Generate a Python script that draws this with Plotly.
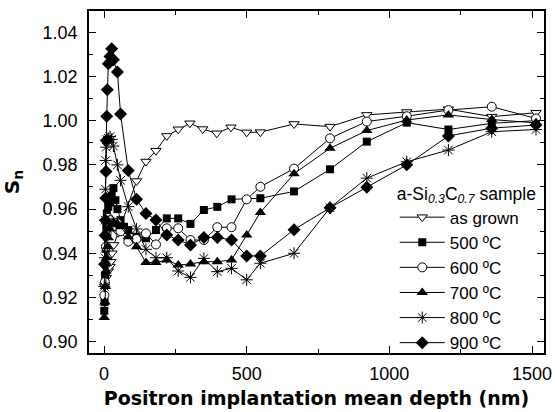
import plotly.graph_objects as go

# ---- data ----
d_asgrown = [2, 8, 15, 21, 24, 28, 34, 50, 114, 147, 182, 220, 260, 301, 346, 395, 445, 500, 548, 666, 792, 921, 1061, 1207, 1359, 1514]
s_asgrown = [0.925, 0.929, 0.932, 0.934, 0.9362, 0.940, 0.9438, 0.9493, 0.9727, 0.9815, 0.9864, 0.9931, 0.9961, 0.9988, 0.9962, 0.9943, 0.9970, 0.9947, 0.9948, 0.9985, 0.9973, 1.0026, 1.0039, 1.0052, 1.0018, 1.0036]

d_500 = [1, 2, 4, 6, 8, 10, 15, 21, 27, 33, 40, 47, 58, 70, 85, 114, 147, 182, 220, 260, 303, 350, 397, 447, 548, 666, 792, 921, 1061, 1207, 1359, 1514]
s_500 = [0.914, 0.918, 0.930, 0.942, 0.952, 0.958, 0.961, 0.963, 0.966, 0.9695, 0.964, 0.960, 0.955, 0.952, 0.9505, 0.9475, 0.9468, 0.9505, 0.9558, 0.9558, 0.9533, 0.9596, 0.961, 0.9644, 0.9649, 0.9680, 0.978, 0.9905, 0.9991, 0.996, 0.9988, 1.000]

d_600 = [1, 3, 5, 7, 9, 12, 15, 21, 33, 47, 58, 85, 114, 147, 182, 220, 260, 303, 350, 397, 447, 500, 548, 666, 792, 921, 1061, 1207, 1359, 1514]
s_600 = [0.921, 0.927, 0.935, 0.943, 0.949, 0.954, 0.956, 0.955, 0.954, 0.9536, 0.950, 0.9453, 0.9465, 0.949, 0.944, 0.9513, 0.9513, 0.946, 0.946, 0.9518, 0.9518, 0.9644, 0.9701, 0.9783, 0.992, 0.9996, 1.002, 1.0048, 1.0063, 1.001]

d_700 = [1, 3, 5, 7, 9, 12, 15, 21, 27, 33, 47, 58, 85, 114, 147, 182, 220, 260, 303, 350, 397, 447, 500, 548, 666, 792, 921, 1061, 1207, 1359, 1514]
s_700 = [0.911, 0.918, 0.925, 0.932, 0.938, 0.943, 0.947, 0.951, 0.953, 0.954, 0.9535, 0.952, 0.9475, 0.943, 0.9358, 0.9358, 0.937, 0.9347, 0.9352, 0.9362, 0.9362, 0.937, 0.9483, 0.9585, 0.9760, 0.9875, 0.9955, 1.0003, 1.0026, 1.0005, 0.999]

d_800 = [1, 3, 4, 5, 6, 8, 9.5, 15, 21, 27, 33, 47, 58, 85, 114, 147, 182, 220, 260, 303, 350, 397, 447, 500, 548, 666, 792, 921, 1061, 1207, 1359, 1514]
s_800 = [0.925, 0.938, 0.955, 0.969, 0.982, 0.988, 0.9915, 0.992, 0.9928, 0.9915, 0.9885, 0.980, 0.973, 0.9611, 0.951, 0.9418, 0.938, 0.938, 0.932, 0.9291, 0.9377, 0.9317, 0.9332, 0.928, 0.9355, 0.940, 0.9606, 0.974, 0.9814, 0.9867, 0.995, 0.996]

d_900 = [2, 4, 5, 6, 7, 8, 9.5, 11.6, 15, 21, 27, 33, 47, 58, 85, 114, 147, 182, 220, 260, 303, 350, 397, 447, 500, 548, 666, 792, 921, 1061, 1207, 1359, 1514]
s_900 = [0.935, 0.948, 0.955, 0.965, 0.977, 0.991, 1.002, 1.014, 1.0257, 1.029, 1.0325, 1.0275, 1.022, 1.003, 0.9774, 0.9644, 0.958, 0.9551, 0.9483, 0.946, 0.9438, 0.9472, 0.9472, 0.946, 0.9388, 0.9388, 0.9507, 0.9606, 0.9699, 0.980, 0.9931, 0.9966, 0.998]

names = ["as grown", "500 ºC", "600 ºC", "700 ºC", "800 ºC", "900 ºC"]
x_ticks = [0, 500, 1000, 1500]
y_ticks = [0.90, 0.92, 0.94, 0.96, 0.98, 1.00, 1.02, 1.04]

series = [
    (d_asgrown, s_asgrown, dict(symbol="triangle-down", size=9, color="white", line=dict(color="black", width=1))),
    (d_500, s_500, dict(symbol="square", size=8, color="black", line=dict(color="black", width=0))),
    (d_600, s_600, dict(symbol="circle", size=9, color="white", line=dict(color="black", width=1))),
    (d_700, s_700, dict(symbol="triangle-up", size=10, color="black", line=dict(color="black", width=0))),
    (d_800, s_800, dict(symbol="asterisk-open", size=10, color="black", line=dict(color="black", width=1))),
    (d_900, s_900, dict(symbol="diamond", size=10, color="black", line=dict(color="black", width=0))),
]

fig = go.Figure()
for (dx, sy, mk), nm in zip(series, names):
    fig.add_trace(go.Scatter(x=dx, y=sy, name=nm, mode="lines+markers",
                             line=dict(color="black", width=1), marker=mk))

axis_common = dict(showline=True, linecolor="black", linewidth=1.5, mirror="allticks",
                   ticks="inside", ticklen=7, tickwidth=1, tickcolor="black",
                   showgrid=False, zeroline=False,
                   tickfont=dict(family="Liberation Sans, Arial", size=18, color="black"))

fig.update_xaxes(range=[-52.6, 1542], tickvals=x_ticks, ticktext=[str(v) for v in x_ticks],
                 minor=dict(ticks="inside", ticklen=4, tickcolor="black", dtick=250, tick0=0),
                 title=dict(text="<b>Positron implantation mean depth (nm)</b>",
                            font=dict(family="DejaVu Sans", size=19, color="black"), standoff=8),
                 ticklabelstandoff=4,
                 **axis_common)
fig.update_yaxes(range=[0.8949, 1.0496], tickvals=y_ticks, ticktext=[f"{v:.2f}" for v in y_ticks],
                 minor=dict(ticks="inside", ticklen=4, tickcolor="black", dtick=0.01, tick0=0.90),
                 title=dict(text="<b>S<sub>n</sub></b>",
                            font=dict(family="DejaVu Sans", size=20, color="black"), standoff=19),
                 ticklabelstandoff=6,
                 **axis_common)

fig.update_layout(
    width=555, height=412,
    margin=dict(l=89, r=11, t=11, b=59, autoexpand=False),
    paper_bgcolor="white", plot_bgcolor="white",
    font=dict(family="Liberation Sans, Arial", size=18, color="black"),
    legend=dict(x=0.672, y=0.515, xanchor="left", yanchor="top",
                bgcolor="rgba(0,0,0,0)", borderwidth=0,
                font=dict(family="Liberation Sans, Arial", size=17, color="black"),
                title=dict(text="a-Si<sub><i>0.3</i></sub>C<sub><i>0.7</i></sub> sample",
                           font=dict(family="Liberation Sans, Arial", size=17.5, color="black")),
                tracegroupgap=0, itemwidth=45),
    showlegend=True,
)

fig.write_html("out.html", config={"displayModeBar": False},
               post_script="document.body.style.margin='0';document.body.style.overflow='hidden';")
